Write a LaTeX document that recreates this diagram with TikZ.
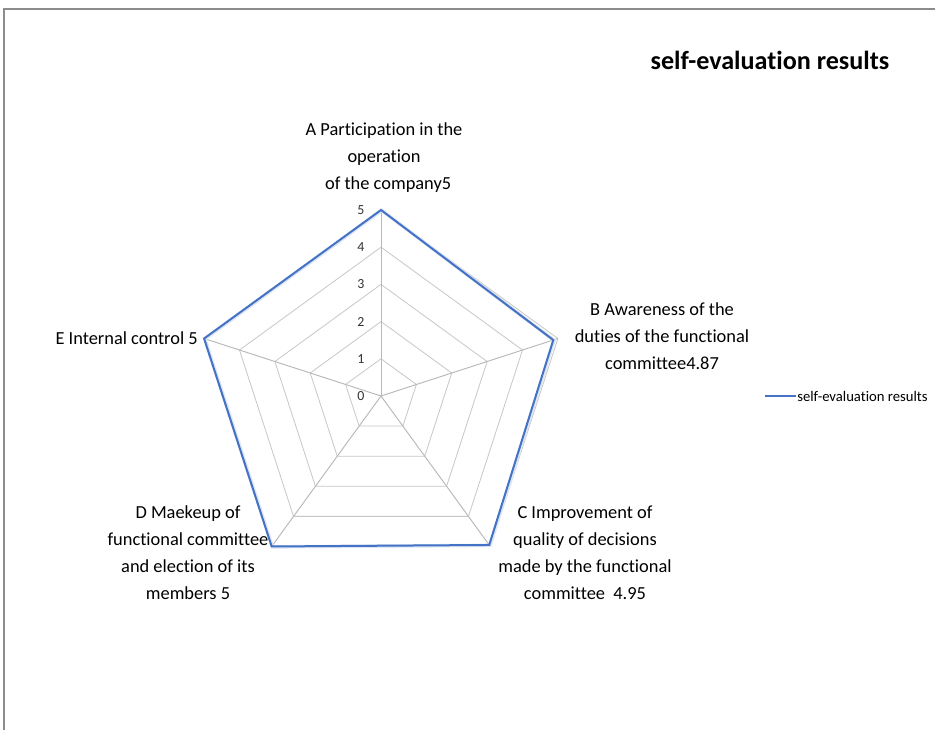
\documentclass[tikz,border=0pt]{standalone}
\usepackage{fontspec}
\setmainfont[Ligatures={NoCommon,NoRare,NoContextual}]{Carlito}
\begin{document}
\begin{tikzpicture}[x=0.75pt,y=-0.75pt,
  gridline/.style={draw=black!22, line width=0.6pt},
  spoke/.style={draw=black!28, line width=0.7pt},
  series/.style={draw=seriesblue, line width=1.5pt, line join=miter},
  halo/.style={draw=seriesblue!18, line width=2.6pt, line join=miter},
  catlabel/.style={align=center, font=\fontsize{13.8}{20.3}\selectfont, inner sep=0pt},
  ticklabel/.style={font=\fontsize{10.4}{12}\selectfont, text=black!80, inner sep=0pt},
]
\definecolor{seriesblue}{HTML}{4472C4}
% canvas and frame
\useasboundingbox (0,0) rectangle (935,730);
\fill[white] (0,0) rectangle (935,730);
\draw[black!45, line width=0.8pt] (935,9) -- (4,9) -- (4,730);

% title
\node[font=\fontsize{19.6}{22}\selectfont\bfseries, anchor=east] (title) at (894,60) {self-evaluation results};

% radar chart
\begin{scope}[shift={(381,396)}, yscale=-1]
  \def\unit{37.2}
  \coordinate (ctr) at (0,0);
  % grid rings
  \foreach \r in {1,...,5}{
    \draw[gridline] (90:\r*\unit) -- (18:\r*\unit) -- (-54:\r*\unit) -- (-126:\r*\unit) -- (162:\r*\unit) -- cycle;
  }
  % spokes
  \coordinate (sa) at (90:5*\unit);
  \coordinate (sb) at (18:5*\unit);
  \coordinate (sc) at (-54:5*\unit);
  \coordinate (sd) at (-126:5*\unit);
  \coordinate (se) at (162:5*\unit);
  \foreach \s in {sa,sb,sc,sd,se}{ \draw[spoke] (ctr) -- (\s); }
  % data points
  \coordinate (pa) at (90:5*\unit);
  \coordinate (pb) at (18:4.87*\unit);
  \coordinate (pc) at (-54:4.95*\unit);
  \coordinate (pd) at (-126:5*\unit);
  \coordinate (pe) at (162:5*\unit);
  \draw[halo] ([shift={(0.8,-0.4)}]pa) -- ([shift={(0.8,-0.4)}]pb) -- ([shift={(0.8,-0.4)}]pc) -- ([shift={(0.8,-0.4)}]pd) -- ([shift={(0.8,-0.4)}]pe) -- cycle;
  \draw[series] (pa) -- (pb) -- (pc) -- (pd) -- (pe) -- cycle;
  % scale labels
  \foreach \v in {0,...,5}{
    \node[ticklabel] (t\v) at (-20, \v*\unit) {\v};
  }
\end{scope}

% category labels
\node[catlabel] (la) at (384,158) {A Participation in the\\operation\\\ \ of the company5};
\node[catlabel] (lb) at (662,336) {B Awareness of the\\duties of the functional\\committee4.87};
\node[catlabel] (lc) at (585,553) {C Improvement of\\quality of decisions\\made by the functional\\committee\ \ 4.95};
\node[catlabel] (ld) at (188,553) {D Maekeup of\\functional committee\\and election of its\\members 5};
\node[catlabel, anchor=east] (le) at (198,338) {E Internal control 5};

% legend
\coordinate (lg1) at (765,396);
\coordinate (lg2) at (796,396);
\draw[draw=seriesblue, line width=1.2pt] (lg1) -- (lg2);
\node[font=\fontsize{11}{12}\selectfont, anchor=west, inner sep=0pt] (legtext) at (797,396) {self-evaluation results};
\end{tikzpicture}
\end{document}
